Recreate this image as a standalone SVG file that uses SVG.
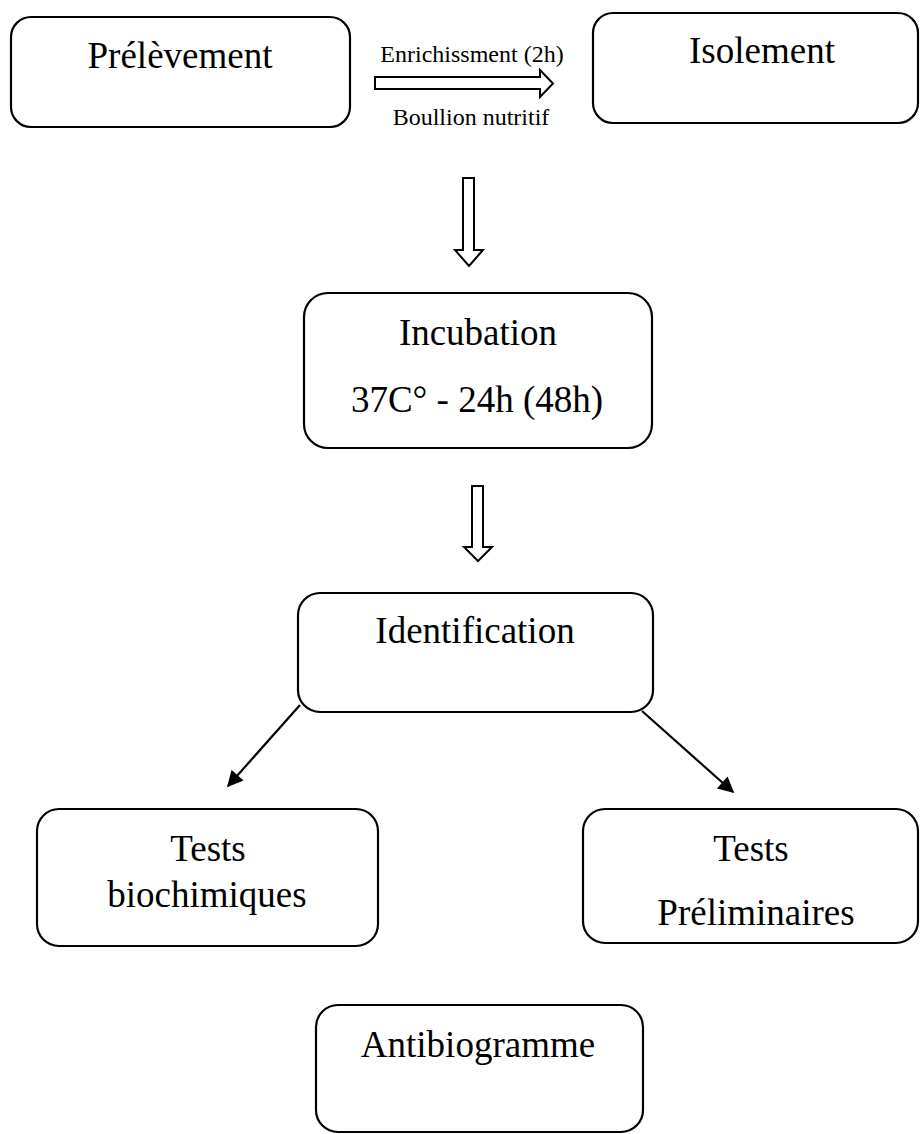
<svg xmlns="http://www.w3.org/2000/svg" width="920" height="1134" viewBox="0 0 920 1134">
<defs>
<style>
.box{fill:#fff;stroke:#000;stroke-width:2.2}
.t{font-family:"Liberation Serif","Times New Roman",serif;font-size:37px;fill:#000;text-anchor:middle}
.s{font-family:"Liberation Serif","Times New Roman",serif;font-size:24px;fill:#000;text-anchor:middle}
.blk{fill:#fff;stroke:#000;stroke-width:2;stroke-linejoin:miter}
.ln{stroke:#000;stroke-width:2.2;fill:none}
</style>
<marker id="ah" viewBox="0 0 10 10" refX="9" refY="5" markerWidth="18" markerHeight="16" markerUnits="userSpaceOnUse" orient="auto">
<path d="M0,0 L10,5 L0,10 z" fill="#000"/>
</marker>
</defs>
<rect width="920" height="1134" fill="#fff"/>
<g id="prelevement">
<rect class="box" x="11" y="17" width="339" height="110" rx="20"/>
<text class="t" x="180" y="68">Prélèvement</text>
</g>
<g id="isolement">
<rect class="box" x="593" y="13" width="325" height="110" rx="20"/>
<text class="t" x="762" y="63">Isolement</text>
</g>
<g id="incubation">
<rect class="box" x="304" y="293" width="348" height="155" rx="24"/>
<text class="t" x="478" y="345">Incubation</text>
<text class="t" x="477" y="412">37C° - 24h (48h)</text>
</g>
<g id="identification">
<rect class="box" x="298" y="593" width="355" height="119" rx="22"/>
<text class="t" x="475" y="643">Identification</text>
</g>
<g id="tests-biochimiques">
<rect class="box" x="37" y="809" width="341" height="137" rx="22"/>
<text class="t" x="208" y="861">Tests</text>
<text class="t" x="207" y="907">biochimiques</text>
</g>
<g id="tests-preliminaires">
<rect class="box" x="583" y="809" width="335" height="134" rx="22"/>
<text class="t" x="751" y="861">Tests</text>
<text class="t" x="756" y="925">Préliminaires</text>
</g>
<g id="antibiogramme">
<rect class="box" x="316" y="1005" width="327" height="127" rx="22"/>
<text class="t" x="478" y="1057">Antibiogramme</text>
</g>
<g id="connectors">
<polygon class="blk" points="375,77 540,77 540,70 553,83.5 540,97 540,89 375,89"/>
<text class="s" x="472" y="62">Enrichissment (2h)</text>
<text class="s" x="471" y="125">Boullion nutritif</text>
<polygon class="blk" points="463,178 474,178 474,250 483,250 469,266 455,250 463,250"/>
<polygon class="blk" points="472,486 483,486 483,547 492,547 478,561 464,547 472,547"/>
<line class="ln" x1="300" y1="705" x2="228" y2="786" marker-end="url(#ah)"/>
<line class="ln" x1="642" y1="711" x2="733" y2="792" marker-end="url(#ah)"/>
</g>
</svg>
